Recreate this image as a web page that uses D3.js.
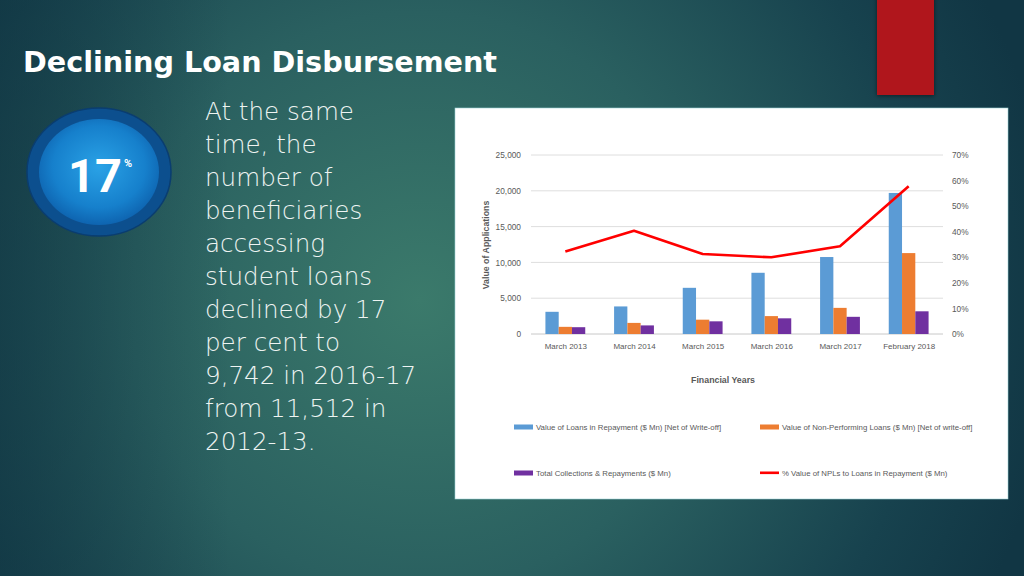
<!DOCTYPE html>
<html>
<head>
<meta charset="utf-8">
<script src="https://cdn.jsdelivr.net/npm/d3@7/dist/d3.min.js"></script>
<style>
html,body{margin:0;padding:0;background:#1b4a52;}
svg{display:block;}
</style>
</head>
<body>
<svg id="slide" width="1024" height="576"></svg>
<script>
// ---- data ----
const categories = ["March 2013","March 2014","March 2015","March 2016","March 2017","February 2018"];
const loansInRepayment = [3100, 3850, 6450, 8550, 10750, 19700];
const nonPerforming = [1000, 1550, 2000, 2500, 3650, 11300];
const collections = [950, 1200, 1770, 2190, 2400, 3170];
const nplPercent = [0.323, 0.404, 0.313, 0.300, 0.343, 0.578];
const leftTicks = [0, 5000, 10000, 15000, 20000, 25000];
const rightTicks = [0, 0.1, 0.2, 0.3, 0.4, 0.5, 0.6, 0.7];
const seriesNames = [
  "Value of Loans in Repayment ($ Mn) [Net of Write-off]",
  "Value of Non-Performing Loans ($ Mn) [Net of write-off]",
  "Total Collections  & Repayments ($ Mn)",
  "% Value of NPLs to Loans in  Repayment ($ Mn)"
];
const bodyLines = ["At the same","time, the","number of","beneficiaries","accessing","student loans","declined by 17","per cent to","9,742 in 2016-17","from 11,512 in","2012-13."];

const colors = ["#5b9bd5","#ed7d31","#7030a0","#ff0000"];

const svg = d3.select("#slide");
const defs = svg.append("defs");

// background
const bg = defs.append("radialGradient").attr("id","bg")
  .attr("gradientUnits","userSpaceOnUse").attr("cx",420).attr("cy",300).attr("r",640);
bg.append("stop").attr("offset",0).attr("stop-color","#3b7a6b");
bg.append("stop").attr("offset",0.45).attr("stop-color","#2a6060");
bg.append("stop").attr("offset",0.8).attr("stop-color","#17424e");
bg.append("stop").attr("offset",1).attr("stop-color","#113644");
svg.append("rect").attr("width",1024).attr("height",576).attr("fill","url(#bg)");

// darker left vignette
const lv = defs.append("linearGradient").attr("id","lv").attr("x1",0).attr("x2",1).attr("y1",0).attr("y2",0);
lv.append("stop").attr("offset",0).attr("stop-color","#0f3340").attr("stop-opacity",0.55);
lv.append("stop").attr("offset",1).attr("stop-color","#0f3340").attr("stop-opacity",0);
svg.append("rect").attr("width",230).attr("height",576).attr("fill","url(#lv)");

// red tab with shadow
const sh = defs.append("filter").attr("id","sh").attr("x","-30%").attr("y","-30%").attr("width","160%").attr("height","160%");
sh.append("feDropShadow").attr("dx",0).attr("dy",1).attr("stdDeviation",2).attr("flood-color","#000").attr("flood-opacity",0.5);
svg.append("rect").attr("x",877).attr("y",-5).attr("width",57).attr("height",100)
  .attr("fill","#b0171a").attr("filter","url(#sh)");

// title
svg.append("text").attr("x",23).attr("y",72)
  .attr("font-family","'DejaVu Sans', sans-serif").attr("font-weight","bold")
  .attr("font-size",28).attr("fill","#ffffff")
  .attr("textLength",474).attr("lengthAdjust","spacingAndGlyphs")
  .text("Declining Loan Disbursement");

// body text
svg.append("g").selectAll("text").data(bodyLines).join("text")
  .attr("x",205).attr("y",(d,i)=>120+i*33)
  .attr("font-family","'DejaVu Sans', sans-serif").attr("font-weight","300")
  .attr("font-size",24.6).attr("fill","#eef4f2")
  .text(d=>d);

// badge
const bo = defs.append("radialGradient").attr("id","badgeIn").attr("cx","50%").attr("cy","45%").attr("r","55%");
bo.append("stop").attr("offset",0).attr("stop-color","#2aa2e6");
bo.append("stop").attr("offset",0.7).attr("stop-color","#1680cc");
bo.append("stop").attr("offset",1).attr("stop-color","#0e64b0");
svg.append("ellipse").attr("cx",99).attr("cy",172).attr("rx",72).attr("ry",64)
  .attr("fill","#0c4f8e").attr("stroke","#0a3d70").attr("stroke-width",1.5);
svg.append("ellipse").attr("cx",99).attr("cy",172).attr("rx",60).attr("ry",53)
  .attr("fill","url(#badgeIn)");
const badgeText = svg.append("text").attr("x",68).attr("y",192)
  .attr("font-family","Roboto, 'DejaVu Sans', sans-serif").attr("font-weight","bold")
  .attr("font-size",47).attr("fill","#ffffff");
badgeText.append("tspan").text("17");
badgeText.append("tspan").attr("dx",2).attr("dy",-25).attr("font-size",11).text("%");

// chart panel
svg.append("rect").attr("x",455).attr("y",108).attr("width",553).attr("height",391)
  .attr("fill","#ffffff").attr("stroke","#9fd3d6").attr("stroke-width",0.6);

const plot = {left:531, right:943, top:155, bottom:334};
const x0 = d3.scaleBand().domain(categories).range([plot.left, plot.right]).paddingInner(0.42).paddingOuter(0.21);
const x1 = d3.scaleBand().domain([0,1,2]).range([0, x0.bandwidth()]);
const y = d3.scaleLinear().domain([0,25000]).range([plot.bottom, plot.top]);
const y2 = d3.scaleLinear().domain([0,0.7]).range([plot.bottom, plot.top]);
const xc = d3.scalePoint().domain(categories).range([plot.left, plot.right]).padding(0.5);

const font = "'Liberation Sans', Arial, sans-serif";

// gridlines
svg.append("g").selectAll("line").data(leftTicks).join("line")
  .attr("x1",plot.left).attr("x2",plot.right)
  .attr("y1",d=>y(d)).attr("y2",d=>y(d))
  .attr("stroke",d=>d===0?"#c8c8c8":"#dedede").attr("stroke-width",1);

// left axis
const la = svg.append("g").attr("transform",`translate(${plot.left},0)`)
  .call(d3.axisLeft(y).tickValues(leftTicks).tickSize(0).tickPadding(10).tickFormat(d3.format(",")));
la.select(".domain").remove();
la.selectAll("text").attr("font-family",font).attr("font-size",8.3).attr("fill","#595959");

// right axis
const ra = svg.append("g").attr("transform",`translate(${plot.right},0)`)
  .call(d3.axisRight(y2).tickValues(rightTicks).tickSize(0).tickPadding(9).tickFormat(d3.format(".0%")));
ra.select(".domain").remove();
ra.selectAll("text").attr("font-family",font).attr("font-size",8.3).attr("fill","#595959");

// bottom axis
const ba = svg.append("g").attr("transform",`translate(0,${plot.bottom})`)
  .call(d3.axisBottom(xc).tickSize(0).tickPadding(9));
ba.select(".domain").remove();
ba.selectAll("text").attr("font-family",font).attr("font-size",8).attr("fill","#595959");

// bars
const series = [loansInRepayment, nonPerforming, collections];
const bars = svg.append("g");
series.forEach((vals,si)=>{
  bars.append("g").selectAll("rect").data(vals).join("rect")
    .attr("x",(d,i)=>x0(categories[i])+x1(si))
    .attr("width",x1.bandwidth())
    .attr("y",d=>y(d)).attr("height",d=>plot.bottom-y(d))
    .attr("fill",colors[si]);
});

// line
const line = d3.line().x((d,i)=>xc(categories[i])).y(d=>y2(d));
svg.append("path").datum(nplPercent).attr("d",line)
  .attr("fill","none").attr("stroke",colors[3]).attr("stroke-width",2.6).attr("stroke-linejoin","round");

// axis titles
svg.append("text").attr("transform","translate(489,245) rotate(-90)")
  .attr("text-anchor","middle").attr("font-family",font).attr("font-weight","bold")
  .attr("font-size",8.8).attr("fill","#595959").text("Value of Applications");
svg.append("text").attr("x",723).attr("y",383).attr("text-anchor","middle")
  .attr("font-family",font).attr("font-weight","bold")
  .attr("font-size",8.8).attr("fill","#595959").text("Financial Years");

// legend
const legPos = [[514,427],[760,427],[514,473],[760,473]];
const lg = svg.append("g").selectAll("g").data(seriesNames).join("g")
  .attr("transform",(d,i)=>`translate(${legPos[i][0]},${legPos[i][1]})`);
lg.append("rect").attr("x",0).attr("y",(d,i)=>i===3?-1.5:-2.5).attr("width",19)
  .attr("height",(d,i)=>i===3?2.6:5).attr("fill",(d,i)=>colors[i]);
lg.append("text").attr("x",22).attr("y",3).attr("font-family",font).attr("font-size",7.8)
  .attr("fill","#595959").text(d=>d);
</script>
</body>
</html>
